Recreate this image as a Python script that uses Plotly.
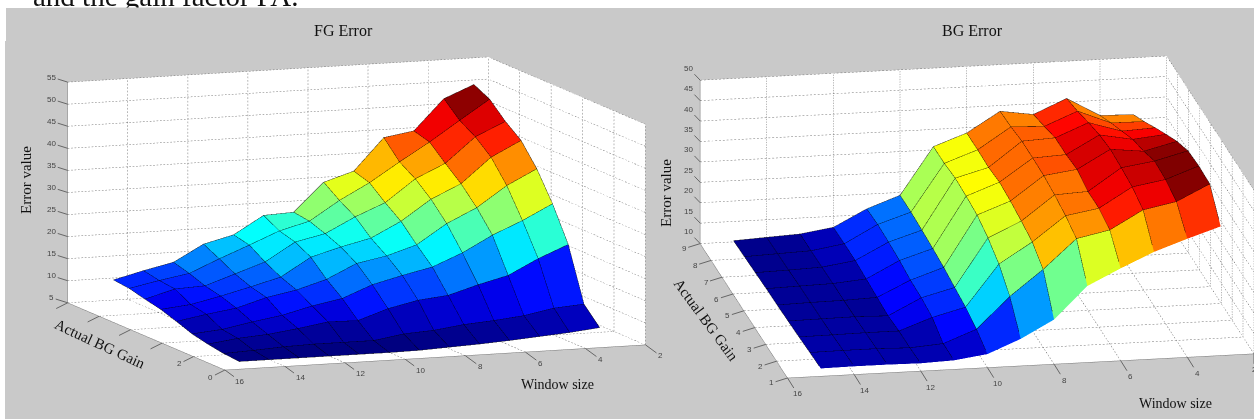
import math
import plotly.graph_objects as go

windows = [15, 14, 13, 12, 11, 10, 9, 8, 7, 6, 5, 4, 3]
fg_gains = [1, 2, 3, 4, 5, 6, 7, 8, 9]
bg_gains = [1, 2, 3, 4, 5, 6, 7, 8, 9]

fg_error = [
    [5, 5, 5, 5, 5, 5, 5.1, 5.4, 5.7, 6.1, 6.6, 7.1, 7.8],
    [5.3, 5.6, 6, 6.2, 6.2, 6.2, 7.3, 7.7, 8.6, 9.1, 9.8, 11.1, 11.6],
    [5.9, 6.8, 7.3, 8.2, 9.3, 9.2, 11.5, 13, 13.7, 15.7, 17.4, 20.8, 23.6],
    [6.7, 7.3, 8.6, 9.7, 11.4, 12.7, 15.4, 17.1, 18.6, 21.4, 25, 27.9, 31.3],
    [8, 9.2, 10.2, 12.2, 13.5, 15.5, 18.7, 20, 22.1, 26.5, 29.7, 34.3, 37.7],
    [9.2, 9.9, 11.4, 13.1, 14.9, 19, 20.9, 22.5, 25.9, 30.5, 33.6, 39.2, 42.6],
    [10, 11.9, 12.2, 14.5, 16.8, 20.9, 22.4, 25.8, 28.6, 33.6, 36.7, 42.3, 45.4],
    [10.9, 12.3, 13.5, 16.4, 19.1, 21.9, 23.7, 28, 31.6, 35.9, 40, 44.5, 48.9],
    [11.3, 13, 14.5, 18.2, 19.9, 23.9, 24.2, 30.6, 32.7, 39.9, 41, 47.9, 50.7],
]
bg_error = [
    [11.9, 12.0, 12.0, 11.9, 12.2, 13.3, 16.6, 20.9, 28.7, 32.6, 36.2, 39, 41.6],
    [11.7, 11.8, 11.8, 11.6, 12.2, 15.3, 22.9, 29.1, 36.2, 37.9, 42.4, 44, 47.9],
    [11.4, 11.5, 11.6, 11.6, 14.5, 16.6, 26.7, 31.7, 37.7, 39.1, 43.9, 45.3, 48.2],
    [11.2, 11.3, 11.4, 11.2, 15.2, 17.3, 29, 32.7, 38.7, 39.1, 44.5, 45.7, 47.8],
    [11, 11.2, 11.3, 11.6, 15.4, 18.1, 30.5, 33.5, 39.3, 40.4, 44.9, 44, 46],
    [10.9, 11.1, 11.3, 12, 16.1, 18.6, 31, 34, 39.5, 39.9, 44.3, 42.8, 43.6],
    [10.7, 10.9, 11.2, 12.4, 16.5, 19, 31.3, 33.5, 39.5, 39.9, 43.2, 40.7, 41.1],
    [10.5, 10.8, 11.1, 12.4, 16.7, 19.3, 30.8, 33.7, 38.9, 38.6, 41.9, 38.6, 38.5],
    [10.3, 10.7, 11.1, 12.3, 16.4, 19.3, 30.8, 33.7, 38.6, 37.4, 40.9, 36.3, 36.1],
]

window_ticks = [16, 14, 12, 10, 8, 6, 4, 2]
fg_gain_ticks = [0, 2, 4, 6, 8, 10]
fg_gain_labels = ["0", "2", " ", " ", " ", " "]
fg_z_ticks = [5, 10, 15, 20, 25, 30, 35, 40, 45, 50, 55]
bg_gain_ticks = [1, 2, 3, 4, 5, 6, 7, 8, 9]
bg_z_ticks = [10, 15, 20, 25, 30, 35, 40, 45, 50]

JET = [[0, "#000080"], [0.125, "#0000ff"], [0.375, "#00ffff"],
       [0.625, "#ffff00"], [0.875, "#ff0000"], [1, "#800000"]]
GRID = "#707070"
INK = "#444444"
TICK = "#666666"
SERIF = "Liberation Serif"
W, H = 1254, 419


def view(az, el):
    t, p = math.radians(-az), math.radians(el)
    r = (math.cos(t), math.sin(t), 0)
    u = (-math.sin(t) * math.sin(p), math.cos(t) * math.sin(p), math.cos(p))
    n = (math.sin(t) * math.cos(p), -math.cos(t) * math.cos(p), math.sin(p))
    return r, u, n


def camera(az, el, dist, right_px, down_px, scale_px):
    """Orthographic camera at azimuth/elevation with the scene nudged on screen."""
    r, u, n = view(az, el)
    c = [-right_px / scale_px * r[i] + down_px / scale_px * u[i] for i in range(3)]
    e = [c[i] + dist * n[i] for i in range(3)]
    return dict(projection=dict(type="orthographic"), up=dict(x=0, y=0, z=1),
                center=dict(x=c[0], y=c[1], z=c[2]), eye=dict(x=e[0], y=e[1], z=e[2]))


def surface(xs, ys, zs, cmax, scene, az, el, spans, aspect):
    nr, nc = len(ys), len(xs)
    vx, vy, vz, ii, jj, kk, cell = [], [], [], [], [], [], []
    for r in range(nr):
        for c in range(nc):
            vx.append(xs[c]); vy.append(ys[r]); vz.append(zs[r][c])
    for r in range(nr - 1):
        for c in range(nc - 1):
            a = r * nc + c
            b = a + 1
            d = a + nc
            e = d + 1
            ii += [a, a]; jj += [b, e]; kk += [e, d]
            cell += [zs[r][c + 1]] * 2
    mesh = go.Mesh3d(x=vx, y=vy, z=vz, i=ii, j=jj, k=kk, intensity=cell,
                     intensitymode="cell", colorscale=JET, cmin=min(min(q) for q in zs),
                     cmax=cmax, showscale=False, flatshading=True, hoverinfo="skip",
                     lighting=dict(ambient=1, diffuse=0, specular=0, roughness=1, fresnel=0),
                     scene=scene)
    # facet edges sit a hair nearer the camera, straight along the view axis
    _, _, n = view(az, el)
    depth = 0.05
    dx = -n[0] * depth * spans[0] / aspect[0]
    dy = n[1] * depth * spans[1] / aspect[1]
    dz = n[2] * depth * spans[2] / aspect[2]
    lx, ly, lz = [], [], []
    for r in range(nr):
        lx += [v + dx for v in xs] + [None]
        ly += [ys[r] + dy] * nc + [None]
        lz += [v + dz for v in zs[r]] + [None]
    for c in range(nc):
        lx += [xs[c] + dx] * nr + [None]
        ly += [v + dy for v in ys] + [None]
        lz += [zs[r][c] + dz for r in range(nr)] + [None]
    edges = go.Scatter3d(x=lx, y=ly, z=lz, mode="lines", hoverinfo="skip", showlegend=False,
                         line=dict(color="rgba(0,0,0,0.6)", width=1.2), scene=scene)
    return [mesh, edges]


def grid(xt, yt, zt, scene, pitch):
    x0, x1 = xt[0], xt[-1]
    y0, y1 = yt[0], yt[-1]
    z0, z1 = zt[0], zt[-1]
    lx, ly, lz = [], [], []

    def seg(a, b, px):
        steps = max(1, int(px / pitch))
        for s in range(steps):
            f0, f1 = s / steps, (s + 0.5) / steps
            for q, arr in enumerate((lx, ly, lz)):
                arr.extend([a[q] + (b[q] - a[q]) * f0, a[q] + (b[q] - a[q]) * f1, None])
    for x in xt:
        seg((x, y1, z0), (x, y1, z1), 220)
        seg((x, y0, z0), (x, y1, z0), 170)
    for y in yt:
        seg((x1, y, z0), (x1, y, z1), 220)
        seg((x0, y, z0), (x1, y, z0), 420)
    for z in zt:
        seg((x0, y1, z), (x1, y1, z), 420)
        seg((x1, y0, z), (x1, y1, z), 170)
    return go.Scatter3d(x=lx, y=ly, z=lz, mode="lines", hoverinfo="skip", showlegend=False,
                        line=dict(color=GRID, width=1), scene=scene)


def axis(rng):
    return dict(range=rng, showticklabels=False, ticks="", showgrid=False, zeroline=False,
                showline=True, linecolor="#777777", linewidth=1, showbackground=True,
                backgroundcolor="white", showspikes=False, title=dict(text=""))


def tick(x, y, z, text, ax, ay):
    """Axis tick mark and label: a short stem from the axis point to the label."""
    return dict(x=x, y=y, z=z, text=text, showarrow=True, arrowhead=0, arrowwidth=1,
                arrowcolor=TICK, ax=ax, ay=ay, standoff=0,
                font=dict(size=8, color=INK, family="Liberation Sans"))


def tick_set(xt, yt, yl, zt, x_off, y_off, z_off):
    out = []
    for v in xt:
        out.append(tick(v, yt[0], zt[0], str(v), *x_off))
    for v, s in zip(yt, yl):
        out.append(tick(xt[0], v, zt[0], s, *y_off))
    for v in zt:
        out.append(tick(xt[0], yt[-1], v, str(v), *z_off))
    return out


def note(text, px, py, size=14, angle=0):
    return dict(text=text, x=px / W, y=1 - py / H, xref="paper", yref="paper", showarrow=False,
                textangle=angle, xanchor="center", yanchor="middle",
                font=dict(family=SERIF, size=size, color="#111111"))


FG_ASPECT = (2.143, 2.143, 1.067)
BG_ASPECT = (2.264, 2.31, 0.813)

fig = go.Figure()
for t in surface(windows, fg_gains, fg_error, 49.6, "scene", 20.5, 9.2, (14, 10, 50), FG_ASPECT):
    fig.add_trace(t)
fig.add_trace(grid(window_ticks, fg_gain_ticks, fg_z_ticks, "scene", 3.4))
for t in surface(windows, bg_gains, bg_error, 48.2, "scene2", 10.4, 16.4, (14, 8, 40), BG_ASPECT):
    fig.add_trace(t)
fig.add_trace(grid(window_ticks, bg_gain_ticks, bg_z_ticks, "scene2", 3.4))

annotations = [
    note("and the gain factor PA.", 166, -4.5, 29),
    dict(text=" ", x=166 / W, y=1 - 11.5 / H, xref="paper", yref="paper", showarrow=False, width=258,
         height=6, borderpad=0, bgcolor="#c9c9c9", xanchor="center", yanchor="middle"),
    note("FG Error", 343, 30, 16),
    note("BG Error", 972, 30, 16),
    note("Error value", 26, 180, 15, -90),
    note("Error value", 666, 193, 15, -90),
    note("Actual BG Gain", 100, 344, 15, 25),
    note("Actual BG Gain", 706, 320, 15, 53.6),
    note("Window size", 557, 384, 14),
    note("Window size", 1175, 403, 14),
]

fig.update_layout(
    width=W, height=H, autosize=False, margin=dict(l=0, r=0, t=0, b=0), showlegend=False,
    paper_bgcolor="#c9c9c9", plot_bgcolor="#c9c9c9",
    annotations=annotations,
    shapes=[
        dict(type="rect", xref="paper", yref="paper", x0=0, x1=1, y0=1 - 8 / H, y1=1,
             fillcolor="white", line_width=0, layer="below"),
        dict(type="rect", xref="paper", yref="paper", x0=0, x1=5 / W, y0=0, y1=1,
             fillcolor="white", line_width=0, layer="below"),
        dict(type="rect", xref="paper", yref="paper", x0=0, x1=6 / W, y0=1 - 41 / H, y1=1,
             fillcolor="white", line_width=0, layer="below"),
    ],
    scene=dict(
        domain=dict(x=[0, 0.52], y=[0, 1]),
        xaxis=axis([16, 2]), yaxis=axis([0, 10]), zaxis=axis([5, 55]),
        aspectmode="manual", aspectratio=dict(x=FG_ASPECT[0], y=FG_ASPECT[1], z=FG_ASPECT[2]),
        camera=camera(20.5, 9.2, 2.0, 30.5, 4, 209),
        annotations=tick_set(window_ticks, fg_gain_ticks, fg_gain_labels, fg_z_ticks,
                             (15, 11), (-14, 7), (-16, -5)),
    ),
    scene2=dict(
        domain=dict(x=[0.52, 1], y=[0, 1]),
        xaxis=axis([16, 2]), yaxis=axis([1, 9]), zaxis=axis([10, 50]),
        aspectmode="manual", aspectratio=dict(x=BG_ASPECT[0], y=BG_ASPECT[1], z=BG_ASPECT[2]),
        camera=camera(10.4, 16.4, 2.0, 24, 7.5, 209),
        annotations=tick_set(window_ticks, bg_gain_ticks, [str(v) for v in bg_gain_ticks], bg_z_ticks,
                             (10, 16), (-16, 5), (-11.5, -12)),
    ),
)
fig.write_html("out.html", config=dict(displayModeBar=False),
               post_script="document.body.style.margin='0';document.body.style.overflow='hidden';")
